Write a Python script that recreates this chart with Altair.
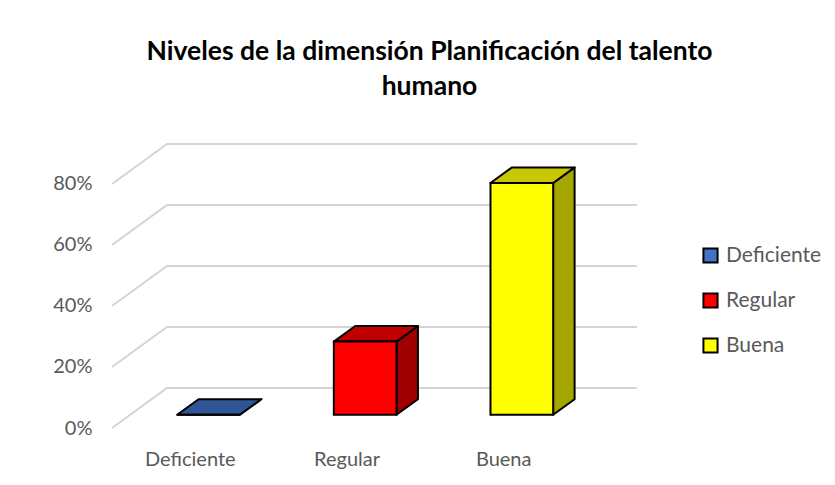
import altair as alt
import pandas as pd

# ---- data ----
categories = ["Deficiente", "Regular", "Buena"]
values = [0, 24, 76]
tick_values = [0, 20, 40, 60, 80]
title_lines = ["Niveles de la dimensión Planificación del talento", "humano"]

# ---- styles ----
front_colors = ["#4472C4", "#FF0000", "#FFFF00"]
top_colors = ["#2F5597", "#C00000", "#C8C800"]
side_colors = ["#22407A", "#A00000", "#A6A600"]
FONT = "Lato"
LABEL_COLOR = "#595959"

# 3D geometry (in scale units)
D = 0.351      # full depth, x units
H = 13.11      # full depth, y units (%)
d1, d2 = 0.33, 0.72
half = 0.2
ymax = 80 + H
xmax = 3 + D

# grid lines (slanted at left + horizontal along back wall)
grid_rows = []
for v in tick_values:
    grid_rows += [
        {"tick": v, "o": 0, "x": 0, "y": v},
        {"tick": v, "o": 1, "x": D, "y": v + H},
        {"tick": v, "o": 2, "x": xmax, "y": v + H},
    ]
grid_df = pd.DataFrame(grid_rows)

front_rows, top_rows, side_rows = [], [], []
for i, (cat, v) in enumerate(zip(categories, values)):
    c = i + 0.5
    front_rows.append({"cat": cat, "x": c - half + d1 * D, "x2": c + half + d1 * D,
                       "y": d1 * H, "y2": v + d1 * H})
    for d in (d1, d2):
        top_rows.append({"cat": cat, "fill": top_colors[i], "y": v + d * H,
                         "x": c - half + d * D, "x2": c + half + d * D})
        side_rows.append({"cat": cat, "fill": side_colors[i], "x": c + half + d * D,
                          "y": d * H, "y2": v + d * H})
front_df = pd.DataFrame(front_rows)
top_df = pd.DataFrame(top_rows)
side_df = pd.DataFrame(side_rows)
label_df = pd.DataFrame({"cat": categories, "x": [i + 0.5 for i in range(3)], "y": [0] * 3})

xs = alt.Scale(domain=[0, xmax], nice=False, zero=False)
ys = alt.Scale(domain=[0, ymax], nice=False, zero=False)
y_axis = alt.Axis(values=tick_values, labelExpr="datum.value + '%'", grid=False, domain=False,
                  ticks=False, labelPadding=20, labelFontSize=20, labelColor=LABEL_COLOR,
                  labelFont=FONT, title=None)

grid = alt.Chart(grid_df).mark_line(color="#d4d4d4", strokeWidth=2).encode(
    x=alt.X("x:Q", scale=xs, axis=None),
    y=alt.Y("y:Q", scale=ys, axis=y_axis),
    detail="tick:N",
    order="o:Q",
)

side = alt.Chart(side_df).mark_area(orient="vertical", stroke="black", strokeWidth=2,
                                    strokeJoin="round").encode(
    x=alt.X("x:Q", scale=xs, axis=None),
    y=alt.Y("y:Q", scale=ys, axis=y_axis),
    y2="y2:Q",
    detail="cat:N",
    fill=alt.Fill("fill:N", scale=None),
)

top = alt.Chart(top_df).mark_area(orient="horizontal", stroke="black", strokeWidth=2,
                                  strokeJoin="round").encode(
    y=alt.Y("y:Q", scale=ys, axis=y_axis),
    x=alt.X("x:Q", scale=xs, axis=None),
    x2="x2:Q",
    detail="cat:N",
    fill=alt.Fill("fill:N", scale=None),
)

front = alt.Chart(front_df).mark_rect(stroke="black", strokeWidth=2).encode(
    x=alt.X("x:Q", scale=xs, axis=None),
    x2="x2:Q",
    y=alt.Y("y:Q", scale=ys, axis=y_axis),
    y2="y2:Q",
    color=alt.Color("cat:N", scale=alt.Scale(domain=categories, range=front_colors),
                    legend=alt.Legend(title=None, orient="none", legendX=588, legendY=101,
                                      symbolType="square", symbolSize=200,
                                      symbolStrokeColor="black", symbolStrokeWidth=2,
                                      labelFontSize=21, labelColor=LABEL_COLOR, labelFont=FONT,
                                      rowPadding=22, labelOffset=5)),
)

labels = alt.Chart(label_df).mark_text(dy=32, fontSize=20, color=LABEL_COLOR, font=FONT).encode(
    x=alt.X("x:Q", scale=xs, axis=None),
    y=alt.Y("y:Q", scale=ys, axis=y_axis),
    text="cat:N",
)

chart = alt.layer(grid, side, top, front, labels).properties(
    width=525,
    height=284,
    autosize=alt.AutoSizeParams(type="none"),
    padding={"left": 104, "top": 136, "right": 190, "bottom": 49},
    title=alt.TitleParams(title_lines, font=FONT, fontSize=26.5, fontWeight="bold", color="black",
                          anchor="middle", dx=55, offset=40, lineHeight=35),
    background="white",
).configure_view(stroke=None)

chart.save("out.html", embed_options={"renderer": "svg", "actions": False})
